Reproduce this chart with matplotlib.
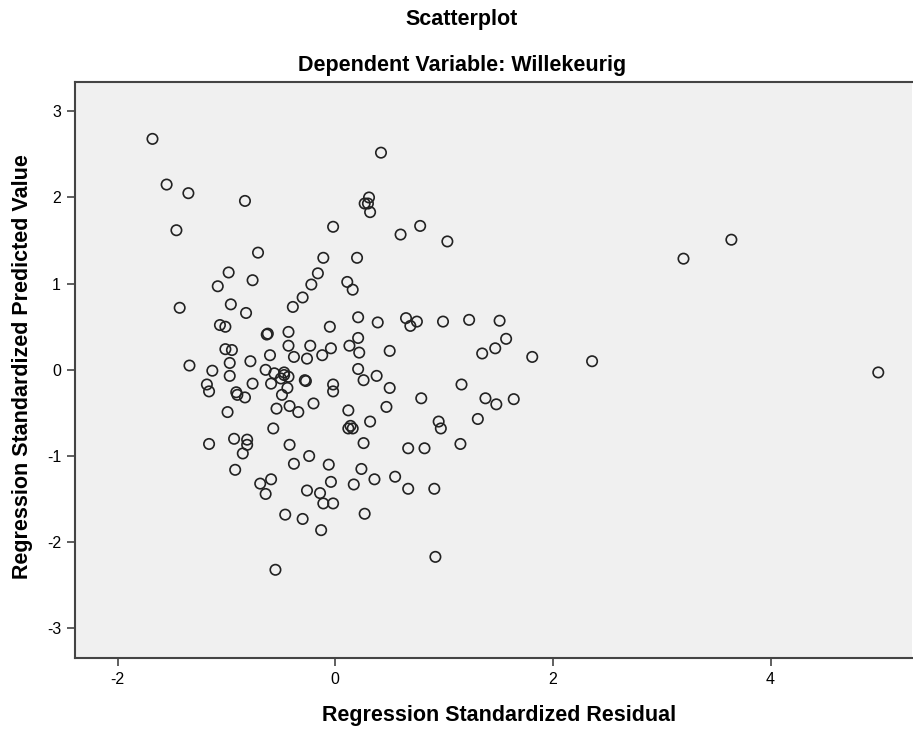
import numpy as np
import matplotlib.pyplot as plt

# regression standardized residual (x) and predicted value (y)
resid = [-1.68, -1.55, -1.35, -0.83, -1.46, -0.02, 0.31, 0.27, 0.30, 0.32,
         -0.71, -0.11, 0.20, -0.98, -0.76, -0.16, -0.22, -1.08, 0.11, 0.16,
         -0.30, -1.43, -0.96, -0.39, -0.82, 0.21, -1.06, -1.01, -0.63, -0.62,
         -0.43, -0.05, 0.21, -1.01, -0.95, -0.43, -0.23, -0.60, -0.38, -0.26,
         -0.12, -0.04, 0.13, 0.22, -1.34, -0.97, -0.78, -1.13, -0.64, 0.21,
         0.42, 0.60, 0.78, 1.03, 0.39, 0.65, 0.69, 0.75, 0.99, 1.23,
         1.51, 1.57, 1.47, 1.35, 0.50, 1.81, 2.36, 0.38, 1.16, 3.64,
         3.20, 4.99, 0.26, 0.50, 0.79, 1.38, 1.48, 1.64, 0.47, 0.32,
         0.95, 0.97, 1.31, 0.26, 0.67, 0.82, 1.15, 0.24, 0.36, 0.55,
         0.67, 0.91, 0.27, 0.92, -0.97, -1.18, -1.16, -0.91, -0.90, -0.83,
         -0.76, -0.59, -0.99, -0.54, -0.42, -0.34, -0.20, -0.02, -0.02, -0.28,
         -0.27, 0.12, 0.12, 0.16, 0.14, -0.57, -1.16, -0.93, -0.81, -0.81,
         -0.85, -0.42, -0.24, -0.38, -0.06, -0.92, -0.69, -0.59, -0.64, -0.04,
         -0.26, -0.14, -0.11, -0.02, 0.17, -0.46, -0.30, -0.13, -0.55, -0.56,
         -0.47, -0.47, -0.43, -0.50, -0.44, -0.49]
pred = [2.68, 2.15, 2.05, 1.96, 1.62, 1.66, 2.00, 1.93, 1.93, 1.83,
        1.36, 1.30, 1.30, 1.13, 1.04, 1.12, 0.99, 0.97, 1.02, 0.93,
        0.84, 0.72, 0.76, 0.73, 0.66, 0.61, 0.52, 0.50, 0.41, 0.42,
        0.44, 0.50, 0.37, 0.24, 0.23, 0.28, 0.28, 0.17, 0.15, 0.13,
        0.17, 0.25, 0.28, 0.20, 0.05, 0.08, 0.10, -0.01, 0.00, 0.01,
        2.52, 1.57, 1.67, 1.49, 0.55, 0.60, 0.51, 0.56, 0.56, 0.58,
        0.57, 0.36, 0.25, 0.19, 0.22, 0.15, 0.10, -0.07, -0.17, 1.51,
        1.29, -0.03, -0.12, -0.21, -0.33, -0.33, -0.40, -0.34, -0.43, -0.60,
        -0.60, -0.68, -0.57, -0.85, -0.91, -0.91, -0.86, -1.15, -1.27, -1.24,
        -1.38, -1.38, -1.67, -2.17, -0.07, -0.17, -0.25, -0.26, -0.29, -0.32,
        -0.16, -0.16, -0.49, -0.45, -0.42, -0.49, -0.39, -0.17, -0.25, -0.12,
        -0.13, -0.47, -0.68, -0.68, -0.65, -0.68, -0.86, -0.80, -0.81, -0.87,
        -0.97, -0.87, -1.00, -1.09, -1.10, -1.16, -1.32, -1.27, -1.44, -1.30,
        -1.40, -1.43, -1.55, -1.55, -1.33, -1.68, -1.73, -1.86, -2.32, -0.04,
        -0.03, -0.06, -0.08, -0.10, -0.21, -0.29]

x_ticks = [-2, 0, 2, 4]
y_ticks = [-3, -2, -1, 0, 1, 2, 3]

plt.rcParams['font.family'] = ['Liberation Sans', 'DejaVu Sans']
plt.rcParams['axes.unicode_minus'] = False

fig = plt.figure(figsize=(9.13, 7.33), dpi=100)
ax = fig.add_axes([75/913, 1-657.7/733, (912-75)/913, (657.7-82)/733])
ax.set_facecolor('#f0f0f0')

ax.scatter(resid, pred, s=56, facecolors='none', edgecolors='#222222', linewidths=1.2)

ax.set_xlim(-2.392, 5.30)
ax.set_ylim(-3.34, 3.34)
ax.set_xticks(x_ticks)
ax.set_yticks(y_ticks)
ax.tick_params(direction='out', length=6, width=1.2, color='#444444', labelsize=11.5, pad=4)
for s in ax.spines.values():
    s.set_color('#444444')
    s.set_linewidth(1.5)
ax.spines['right'].set_visible(False)

ax.set_xlabel('Regression Standardized Residual', fontsize=15.5, fontweight='bold', va='center')
ax.xaxis.set_label_coords((499-75)/(912-75), -(716-657.7)/(657.7-82))
ax.set_ylabel('Regression Standardized Predicted Value', fontsize=15.5, fontweight='bold', va='center')
ax.yaxis.set_label_coords(-(75-23)/(912-75), (657.7-367)/(657.7-82))

fig.text(462/913, 1-20/733, 'Scatterplot', ha='center', va='center', fontsize=15.5, fontweight='bold')
fig.text(462/913, 1-65/733, 'Dependent Variable: Willekeurig', ha='center', va='center',
         fontsize=15.5, fontweight='bold')

fig.savefig('out.png', dpi=100, facecolor='white')
